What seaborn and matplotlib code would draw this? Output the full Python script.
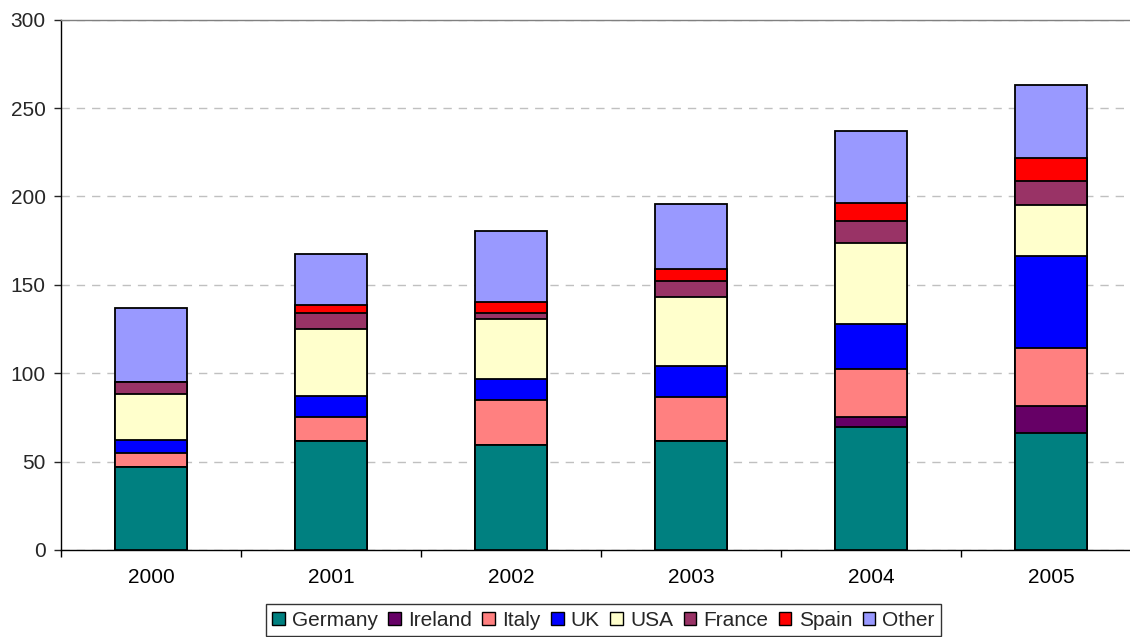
import matplotlib
matplotlib.use('Agg')
import matplotlib.pyplot as plt
import numpy as np
import pandas as pd
import seaborn as sns
from matplotlib.patches import Patch

# Values
years = ['2000', '2001', '2002', '2003', '2004', '2005']
germany = [47.2, 61.7, 59.6, 61.9, 69.6, 66.4]
ireland = [0, 0, 0, 0, 5.8, 14.9]
italy = [7.9, 13.6, 25.1, 24.7, 27.2, 32.8]
uk = [7.0, 11.7, 12.3, 17.4, 25.1, 52.1]
usa = [26.0, 38.3, 33.9, 39.4, 46.2, 29.2]
france = [6.8, 9.0, 3.4, 9.0, 12.3, 13.6]
spain = [0, 4.4, 5.9, 6.8, 10.4, 12.5]
other = [42.1, 28.5, 40.5, 36.4, 40.7, 41.8]

series = ['Germany', 'Ireland', 'Italy', 'UK', 'USA', 'France', 'Spain', 'Other']
colors = ['#008080', '#660066', '#FF8080', '#0000FF', '#FFFFCC', '#993366', '#FF0000', '#9999FF']

df = pd.DataFrame({'Year': years, 'Germany': germany, 'Ireland': ireland, 'Italy': italy,
                   'UK': uk, 'USA': usa, 'France': france, 'Spain': spain, 'Other': other})
cum = df[series].cumsum(axis=1)
cum['Year'] = df['Year']

sns.set_style('white')
plt.rcParams['font.family'] = ['Liberation Sans', 'DejaVu Sans']

fig = plt.figure(figsize=(11.3, 6.37), dpi=100)
ax = fig.add_axes([0.054, 0.1366, 0.9557, 0.8324])

# Draw from the top segment down so every lower segment sits on top
for name, col in zip(series[::-1], colors[::-1]):
    sns.barplot(data=cum, x='Year', y=name, order=years, color=col, width=0.4,
                edgecolor='black', linewidth=1.3, saturation=1, ax=ax, zorder=3)

ax.set_ylim(0, 300)
ax.set_xlim(-0.5, 5.5)
ax.set_yticks(np.arange(0, 301, 50))
ax.yaxis.grid(True, linestyle=(0, (6, 5)), color='#c0c0c0', linewidth=1)
ax.set_axisbelow(True)
ax.set_xlabel('')
ax.set_ylabel('')

ax.set_xticks(np.arange(-0.5, 6, 1), minor=True)
ax.tick_params(axis='x', which='major', length=0, labelsize=15, pad=13, colors='black')
ax.tick_params(axis='x', which='minor', length=5, width=1, direction='out', color='black', bottom=True)
ax.tick_params(axis='y', length=5, width=1, direction='out', labelsize=15, pad=6, left=True)

for s in ['left', 'bottom']:
    ax.spines[s].set_color('black')
    ax.spines[s].set_linewidth(1)
ax.spines['top'].set_color('#808080')
ax.spines['top'].set_linewidth(1)
ax.spines['right'].set_visible(False)

handles = [Patch(facecolor=c, edgecolor='black', linewidth=1, label=s) for s, c in zip(series, colors)]
leg = fig.legend(handles=handles, ncol=8, loc='lower center', bbox_to_anchor=(0.534, 0.0),
                 fontsize=15, frameon=True, fancybox=False, edgecolor='black',
                 handlelength=0.6, handleheight=0.6, handletextpad=0.35, columnspacing=0.5,
                 borderpad=0.3, borderaxespad=0.05)
leg.get_frame().set_linewidth(1)

fig.savefig('out.png', dpi=100)
